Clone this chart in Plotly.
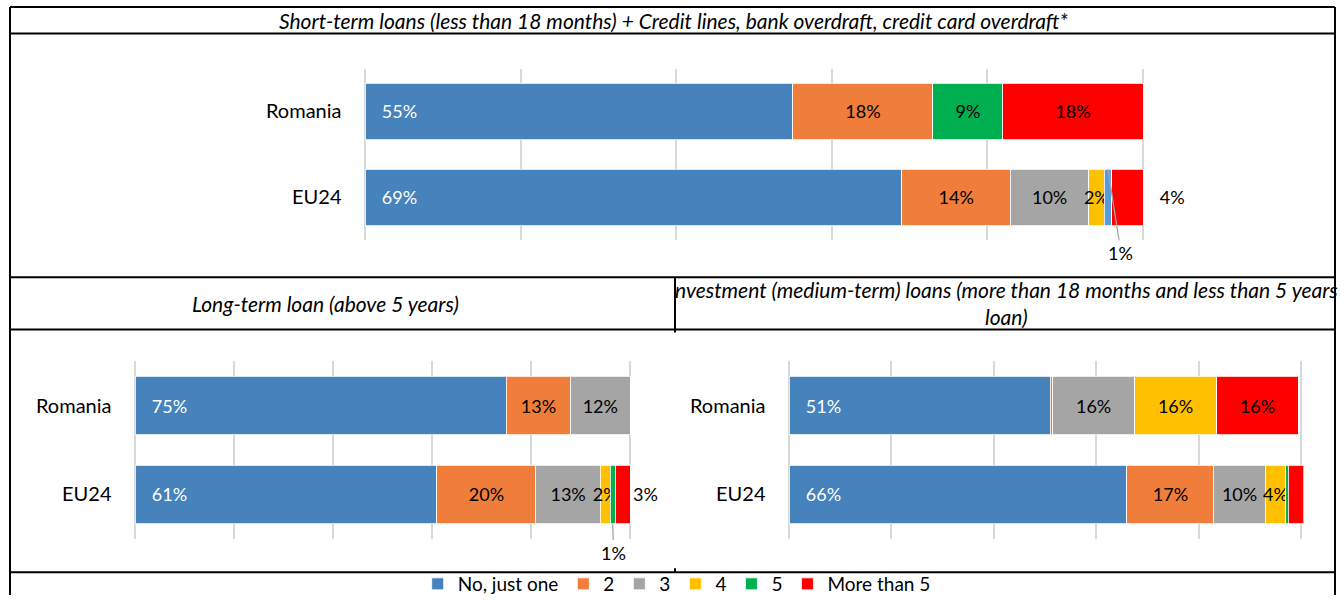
import plotly.graph_objects as go

W, H = 1340, 603
FONT = "Lato, Carlito, Calibri, sans-serif"

CATEGORIES = ["Romania", "EU24"]
SERIES = ["No, just one", "2", "3", "4", "5", "More than 5"]
COLORS = ["#4682BB", "#F07D3A", "#A5A5A5", "#FFC000", "#00B050", "#FF0000"]

# share of firms (%) per answer, in SERIES order
short_romania = [55, 18, 0, 0, 9, 18]
short_eu24 = [69, 14, 10, 2, 1, 4]
long_romania = [75, 13, 12, 0, 0, 0]
long_eu24 = [61, 20, 13, 2, 1, 3]
invest_romania = [51, 0.5, 16, 16, 0, 16]
invest_eu24 = [66, 17, 10, 4, 0.5, 3]

TITLE_SHORT = "Short-term loans (less than 18 months) + Credit lines, bank overdraft, credit card overdraft*"
TITLE_LONG = "Long-term loan (above 5 years)"
TITLE_INVEST = "nvestment (medium-term) loans (more than 18 months and less than 5 years<br>loan)"

BARGAP = 0.34
EDGE_PX = 2.5   # small padding so the 0% / 100% gridlines get drawn


def px(x, y):
    """pixel -> paper coords"""
    return x / W, 1 - y / H


panels = [
    # axis suffix, data, x/y pixel domains, pad before outside label, leader offsets
    dict(s="", rom=short_romania, eu=short_eu24, xd=(365, 1143), yd=(69.5, 243.5),
         lead="\u00a0\u00a0\u00a0", five_eu="#5B9BD5", leader=(13, -1, 84)),
    dict(s="2", rom=long_romania, eu=long_eu24, xd=(135, 630), yd=(366, 546),
         lead="", five_eu=None, leader=(1, 1, 29)),
    dict(s="3", rom=invest_romania, eu=invest_eu24, xd=(789, 1301), yd=(366, 546),
         lead="", five_eu=None, leader=None),
]

fig = go.Figure()
annotations = []
layout_axes = {}

for pi, p in enumerate(panels):
    xa, ya = "x" + p["s"], "y" + p["s"]
    for k, name in enumerate(SERIES):
        vals = [p["rom"][k], p["eu"][k]]
        texts, tpos, colors = [], [], []
        for ci, v in enumerate(vals):
            outside = k == len(SERIES) - 1 and 0 < v < 5
            if v >= 2:
                t = f"{v:g}%"
                if k == 0:
                    t = "\u00a0\u00a0\u00a0" + t
                if outside:
                    t = p["lead"] + t
            else:
                t = ""
            texts.append(t)
            tpos.append("outside" if outside else "inside")
            c = COLORS[k]
            if k == 4 and ci == 1 and p["five_eu"]:
                c = p["five_eu"]
            colors.append(c)
        fig.add_trace(go.Bar(
            x=vals, y=CATEGORIES, orientation="h", name=name,
            xaxis=xa, yaxis=ya, showlegend=(pi == 0),
            marker=dict(color=colors, line=dict(color="white", width=0.8)),
            text=texts, textposition=tpos, textangle=0,
            insidetextanchor="start" if k == 0 else "middle",
            constraintext="none", cliponaxis=False,
            textfont=dict(family=FONT, size=18,
                          color="white" if k == 0 else "black"),
            outsidetextfont=dict(family=FONT, size=18, color="black"),
            hovertemplate="%{y}: %{x}%<extra>" + name + "</extra>",
        ))

        # 1% slivers get a label with a thin leader line
        if p["leader"]:
            for ci, v in enumerate(vals):
                if v == 1:
                    ax_off, side, ay_off = p["leader"]
                    xc = sum(([p["rom"], p["eu"]][ci])[:k]) + v / 2
                    yc = ci + side * (1 - BARGAP) / 2
                    annotations.append(dict(
                        x=xc, y=yc, xref=xa, yref=ya, text="1%",
                        showarrow=True, arrowhead=0, arrowwidth=1.3,
                        arrowcolor="#A6A6A6", ax=ax_off, ay=ay_off,
                        font=dict(family=FONT, size=18, color="black"),
                    ))

    pad = EDGE_PX * 100 / (p["xd"][1] - p["xd"][0])
    x0, _ = px(p["xd"][0] - EDGE_PX, 0)
    x1, _ = px(p["xd"][1] + EDGE_PX, 0)
    _, y0 = px(0, p["yd"][1])
    _, y1 = px(0, p["yd"][0])
    layout_axes["xaxis" + p["s"]] = dict(
        domain=[x0, x1], range=[-pad, 100 + pad], dtick=20, tick0=0,
        showgrid=True, gridcolor="#D9D9D9", gridwidth=1.5,
        zeroline=False, showticklabels=False, anchor=ya, fixedrange=True,
    )
    layout_axes["yaxis" + p["s"]] = dict(
        domain=[y0, y1], categoryorder="array", categoryarray=CATEGORIES,
        autorange="reversed", showgrid=False, anchor=xa, fixedrange=True,
        ticklabelstandoff=20, tickfont=dict(family=FONT, size=20, color="black"),
    )

# header texts
for text, (x, y) in [(TITLE_SHORT, (673, 21)), (TITLE_LONG, (325, 308)),
                     (TITLE_INVEST, (1006, 307))]:
    xp, yp = px(x, y)
    annotations.append(dict(
        x=xp, y=yp, xref="paper", yref="paper", text="<i>" + text + "</i>",
        showarrow=False, xanchor="center", yanchor="middle",
        font=dict(family=FONT, size=21, color="black"),
    ))

# table borders
shapes = []
for (xa_, ya_, xb_, yb_) in [
    (10, 7, 1335, 7), (10, 34, 1335, 34), (10, 281, 1335, 281),
    (10, 334, 1335, 334), (10, 580, 1335, 580),
    (10, 7, 10, 603), (1335, 7, 1335, 603),
    (675, 281, 675, 337), (675, 576, 675, 580),
]:
    xa0, ya0 = px(xa_, ya_)
    xb0, yb0 = px(xb_, yb_)
    shapes.append(dict(type="line", xref="paper", yref="paper",
                       x0=xa0, y0=ya0, x1=xb0, y1=yb0,
                       line=dict(color="black", width=2)))

_, leg_y = px(0, 592)
fig.update_layout(
    **layout_axes,
    barmode="stack", bargap=BARGAP,
    width=W, height=H, autosize=False,
    margin=dict(l=0, r=0, t=0, b=0),
    paper_bgcolor="white", plot_bgcolor="white",
    font=dict(family=FONT, color="black"),
    annotations=annotations, shapes=shapes,
    legend=dict(orientation="h", x=0.505, xanchor="center", y=leg_y,
                yanchor="middle", traceorder="normal", itemwidth=30,
                font=dict(family=FONT, size=19, color="black"),
                bgcolor="rgba(0,0,0,0)"),
)

fig.write_html("out.html", config={"displayModeBar": False},
               post_script="document.body.style.margin='0';")
